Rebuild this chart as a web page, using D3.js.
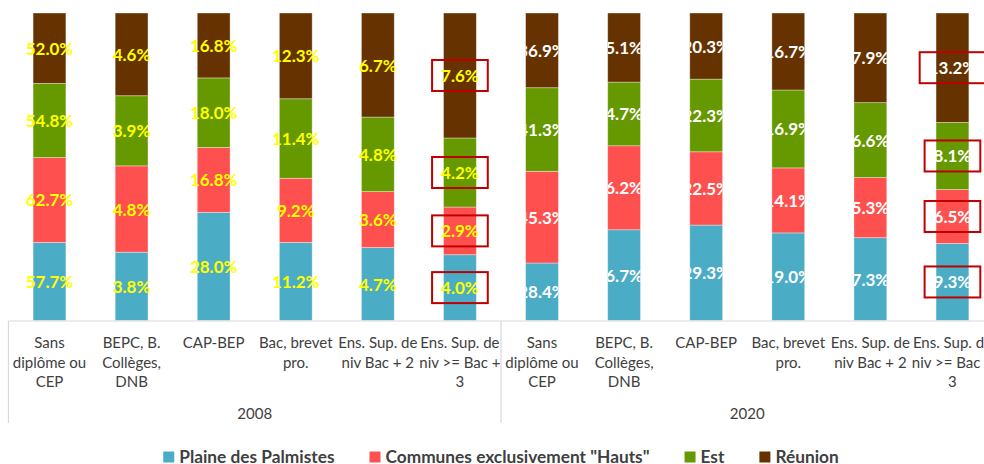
<!DOCTYPE html>
<html><head><meta charset="utf-8">
<script src="https://cdn.jsdelivr.net/npm/d3@7"></script>
<style>html,body{margin:0;padding:0;background:#fff;overflow:hidden}</style>
</head><body>
<svg id="chart" width="984" height="464"></svg>
<script>
// ---- data ----
const years = ["2008", "2020"];
const categories = ["Sans\ndiplôme ou\nCEP", "BEPC, B.\nCollèges,\nDNB", "CAP-BEP", "Bac, brevet\npro.", "Ens. Sup. de\nniv Bac + 2", "Ens. Sup. de\nniv >= Bac +\n3"];
const seriesNames = ["Plaine des Palmistes", "Communes exclusivement \"Hauts\"", "Est", "Réunion"];
const plaine  = [57.7, 3.8, 28.0, 11.2, 4.7, 4.0, 28.4, 6.7, 29.3, 19.0, 7.3, 9.3];
const hauts   = [62.7, 4.8, 16.8, 9.2, 3.6, 2.9, 45.3, 6.2, 22.5, 14.1, 5.3, 6.5];
const est     = [54.8, 3.9, 18.0, 11.4, 4.8, 4.2, 41.3, 4.7, 22.3, 16.9, 6.6, 8.1];
const reunion = [52.0, 4.6, 16.8, 12.3, 6.7, 7.6, 36.9, 5.1, 20.3, 16.7, 7.9, 13.2];
const highlighted = ["2008|Ens. Sup. de\nniv >= Bac +\n3", "2020|Ens. Sup. de\nniv >= Bac +\n3"];

const colors = ["#4BACC6", "#FF5050", "#669900", "#663300"];
const labelColors = {"2008": "#FFFF00", "2020": "#FFFFFF"};

// ---- build rows ----
const seriesVals = [plaine, hauts, est, reunion];
const rows = [];
years.forEach((yr, yi) => categories.forEach((c, ci) => {
  const i = yi * categories.length + ci;
  const r = {key: yr + "|" + c, year: yr, cat: c};
  seriesNames.forEach((s, si) => r[s] = seriesVals[si][i]);
  rows.push(r);
}));

const svg = d3.select("#chart");
const x0 = 8.45, x1 = 993.5, yTop = 13, yBot = 320.5;
const x = d3.scaleBand().domain(rows.map(r => r.key)).range([x0, x1]).paddingInner(0.6).paddingOuter(0.3);
const y = d3.scaleLinear().domain([0, 1]).range([yBot, yTop]);

const stack = d3.stack().keys(seriesNames).offset(d3.stackOffsetExpand);
const stacked = stack(rows);

const font = "Lato, 'Open Sans', sans-serif";

// bars
const defs = svg.append("defs");
rows.forEach((r, i) => {
  defs.append("clipPath").attr("id", "clip" + i).append("rect")
    .attr("x", x(r.key)).attr("y", yTop).attr("width", x.bandwidth()).attr("height", yBot - yTop);
});

stacked.forEach((layer, si) => {
  svg.append("g").selectAll("rect").data(layer).join("rect")
    .attr("x", d => x(d.data.key))
    .attr("y", d => y(d[1]))
    .attr("width", x.bandwidth())
    .attr("height", d => y(d[0]) - y(d[1]))
    .attr("fill", colors[si])
    .attr("stroke", "#ffffff").attr("stroke-opacity", 0.45).attr("stroke-width", 0.8);
});

// labels
const labelG = svg.append("g");
const boxes = [];
stacked.forEach((layer, si) => {
  layer.forEach((d, i) => {
    const r = d.data;
    const cx = x(r.key) + x.bandwidth() / 2;
    const cy = (y(d[0]) + y(d[1])) / 2;
    const t = labelG.append("text")
      .attr("x", cx).attr("y", cy)
      .attr("text-anchor", "middle").attr("dominant-baseline", "central")
      .attr("font-family", font).attr("font-weight", "bold").attr("font-size", 17)
      .attr("fill", labelColors[r.year])
      .text(d3.format(".1f")(r[seriesNames[si]]) + "%");
    if (r.year === "2020") t.attr("clip-path", "url(#clip" + i + ")");
    if (highlighted.includes(r.key)) {
      const w = t.node().getComputedTextLength() + 18;
      boxes.push({cx, cy, w});
    }
  });
});
svg.append("g").selectAll("rect").data(boxes).join("rect")
  .attr("x", d => d.cx - d.w / 2).attr("y", d => d.cy - 15.5)
  .attr("width", d => d.w).attr("height", 31)
  .attr("fill", "none").attr("stroke", "#C00000").attr("stroke-width", 2);

// axis
const axisG = svg.append("g").attr("stroke", "#D9D9D9").attr("stroke-width", 1.2);
axisG.append("line").attr("x1", x0).attr("x2", x1).attr("y1", 321).attr("y2", 321);
const step = x.step();
years.forEach((yr, yi) => {
  const left = x(yr + "|" + categories[0]) - step * 0.3;
  axisG.append("line").attr("x1", left).attr("x2", left).attr("y1", 321).attr("y2", 423);
});

// category labels
const catG = svg.append("g").attr("font-family", font).attr("font-size", 15).attr("fill", "#404040").attr("text-anchor", "middle");
rows.forEach(r => {
  const cx = x(r.key) + x.bandwidth() / 2;
  const t = catG.append("text").attr("x", cx).attr("y", 348);
  r.cat.split("\n").forEach((line, li) => {
    t.append("tspan").attr("x", cx).attr("dy", li === 0 ? 0 : 19.5).text(line);
  });
});
// year labels
years.forEach(yr => {
  const first = x(yr + "|" + categories[0]);
  const last = x(yr + "|" + categories[categories.length - 1]) + x.bandwidth();
  catG.append("text").attr("x", (first + last) / 2).attr("y", 419).text(yr);
});

// legend
const legG = svg.append("g").attr("font-family", font).attr("font-size", 17.3).attr("font-weight", "bold").attr("fill", "#404040");
let cursor = 0;
const items = [];
seriesNames.forEach((s, si) => {
  const g = legG.append("g");
  g.append("rect").attr("x", 0).attr("y", -11).attr("width", 11).attr("height", 11).attr("fill", colors[si]);
  const t = g.append("text").attr("x", 16).attr("y", 0).text(s);
  const w = 16 + t.node().getComputedTextLength();
  items.push({g, off: cursor});
  cursor += w + 35;
});
const total = cursor - 35;
const startX = (x0 + x1) / 2 - total / 2;
items.forEach(it => it.g.attr("transform", `translate(${startX + it.off},462.5)`));
</script>
</body></html>
